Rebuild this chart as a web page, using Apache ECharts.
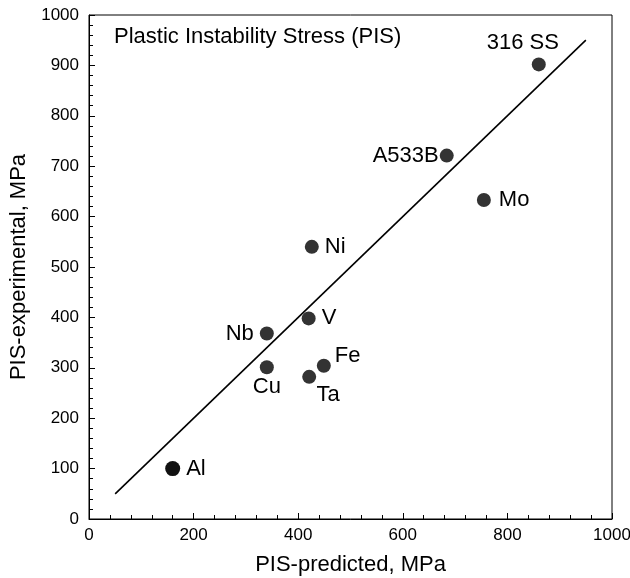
<!DOCTYPE html>
<html>
<head>
<meta charset="utf-8">
<script src="https://cdn.jsdelivr.net/npm/echarts@6/dist/echarts.min.js"></script>
<style>html,body{margin:0;padding:0;background:#fff}#c{width:630px;height:578px}</style>
</head>
<body>
<div id="c"></div>
<script>
const names = ['Al', 'Nb', 'Cu', 'V', 'Ta', 'Fe', 'Ni', 'A533B', 'Mo', '316 SS'];
const predicted = [160, 340, 340, 420, 421, 449, 426, 684, 755, 860];
const experimental = [100, 368, 301, 398, 282, 304, 540, 721, 633, 902];
const lineX = [50, 950];
const lineY = [50, 950];
const xTicks = [0, 200, 400, 600, 800, 1000];
const yTicks = [0, 100, 200, 300, 400, 500, 600, 700, 800, 900, 1000];

const FONT = 'Liberation Sans, Arial, sans-serif';
const placement = {
  'Al': {position: 'right', distance: 6},
  'Nb': {position: 'left', distance: 6},
  'Cu': {position: 'bottom', distance: 2},
  'V': {position: 'right', distance: 6},
  'Ta': {position: 'bottom', distance: 0, offset: [19, 0]},
  'Fe': {position: 'right', distance: 4, offset: [0, -10]},
  'Ni': {position: 'right', distance: 6},
  'A533B': {position: 'left', distance: 1},
  'Mo': {position: 'right', distance: 8},
  '316 SS': {position: 'top', distance: 3, offset: [-16, 0]}
};

const pts = names.map((n, i) => {
  const p = placement[n];
  return {
    name: n,
    value: [predicted[i], experimental[i]],
    itemStyle: {color: n === 'Al' ? '#111' : '#333', opacity: 1},
    symbolSize: n === 'Al' ? 15 : 14,
    label: Object.assign({show: true, formatter: n, color: '#000', fontSize: 22, fontFamily: FONT}, p)
  };
});

const chart = echarts.init(document.getElementById('c'), null, {renderer: 'canvas'});
chart.setOption({
  animation: false,
  backgroundColor: '#fff',
  title: {
    text: 'Plastic Instability Stress (PIS)',
    left: 114, top: 26, padding: 0,
    textStyle: {fontFamily: FONT, fontSize: 22, fontWeight: 'normal', color: '#000'}
  },
  grid: {left: 89, right: 18, top: 15, bottom: 59, containLabel: false, outerBoundsMode: 'none',
    show: true, borderColor: '#000', borderWidth: 1, backgroundColor: 'transparent'},
  xAxis: {
    type: 'value', min: 0, max: 1000, interval: 200,
    name: 'PIS-predicted, MPa', nameLocation: 'middle', nameGap: 35,
    nameTextStyle: {fontFamily: FONT, fontSize: 22, color: '#000'},
    axisLine: {show: true, lineStyle: {color: '#000', width: 1}},
    axisTick: {show: true, inside: true, length: 6, lineStyle: {color: '#000'}},
    minorTick: {show: true, splitNumber: 5, length: 4, lineStyle: {color: '#000'}},
    splitLine: {show: false},
    axisLabel: {fontFamily: FONT, fontSize: 17, color: '#000', margin: 8,
      formatter: v => xTicks.includes(v) ? String(v) : ''}
  },
  yAxis: {
    type: 'value', min: 0, max: 1000, interval: 100,
    name: 'PIS-experimental, MPa', nameLocation: 'middle', nameGap: 54, nameRotate: 90,
    nameTextStyle: {fontFamily: FONT, fontSize: 22, color: '#000'},
    axisLine: {show: true, lineStyle: {color: '#000', width: 1}},
    axisTick: {show: true, inside: true, length: 6, lineStyle: {color: '#000'}},
    minorTick: {show: true, splitNumber: 5, length: 4, lineStyle: {color: '#000'}},
    splitLine: {show: false},
    axisLabel: {fontFamily: FONT, fontSize: 17, color: '#000', margin: 10,
      formatter: v => yTicks.includes(v) ? String(v) : ''}
  },
  series: [
    {
      type: 'line',
      data: lineX.map((x, i) => [x, lineY[i]]),
      symbol: 'none',
      lineStyle: {color: '#000', width: 1.6},
      z: 1
    },
    {
      type: 'scatter',
      data: pts,
      symbol: 'circle',
      z: 2
    }
  ]
});
</script>
</body>
</html>
